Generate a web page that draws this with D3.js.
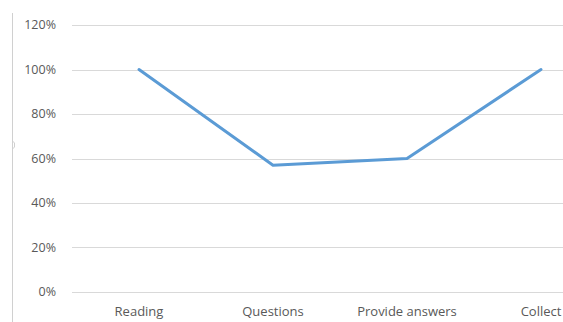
<!DOCTYPE html>
<html>
<head>
<meta charset="utf-8">
<script src="https://cdn.jsdelivr.net/npm/d3@7"></script>
<style>
  body { margin: 0; background: #fff; }
  text { font-family: "Open Sans", "Liberation Sans", sans-serif; }
</style>
</head>
<body>
<div id="chart"></div>
<script>
const categories = ["Reading", "Questions", "Provide answers", "Collect"];
const values = [1.00, 0.57, 0.60, 1.00];
const yTicks = [0, 0.2, 0.4, 0.6, 0.8, 1.0, 1.2];

const width = 563, height = 322;
const margin = { top: 25, right: -45, bottom: 30, left: 72 };

const svg = d3.select("#chart")
  .append("svg")
  .attr("width", width)
  .attr("height", height);

const x = d3.scaleBand()
  .domain(categories)
  .range([margin.left, width - margin.right]);

const y = d3.scaleLinear()
  .domain([0, 1.2])
  .range([height - margin.bottom, margin.top]);

// frame edge on the left
svg.append("line")
  .attr("x1", 12.5).attr("x2", 12.5)
  .attr("y1", 13).attr("y2", height)
  .attr("stroke", "#d0d0d0");
svg.append("path")
  .attr("d", "M12.5,141 L14.5,143 L14.5,147 L12.5,149")
  .attr("fill", "none")
  .attr("stroke", "#d0d0d0");

// gridlines
svg.append("g")
  .selectAll("line")
  .data(yTicks)
  .enter()
  .append("line")
  .attr("x1", margin.left)
  .attr("x2", width)
  .attr("y1", d => Math.round(y(d)) + 0.5)
  .attr("y2", d => Math.round(y(d)) + 0.5)
  .attr("stroke", "#d9d9d9");

// y labels
svg.append("g")
  .selectAll("text")
  .data(yTicks)
  .enter()
  .append("text")
  .attr("x", 56)
  .attr("y", d => y(d))
  .attr("dy", "0.35em")
  .attr("text-anchor", "end")
  .attr("fill", "#595959")
  .style("font-size", "12.5px")
  .text(d => d3.format(".0%")(d));

// x labels
svg.append("g")
  .selectAll("text")
  .data(categories)
  .enter()
  .append("text")
  .attr("x", d => x(d) + x.bandwidth() / 2)
  .attr("y", 311)
  .attr("dy", "0.35em")
  .attr("text-anchor", "middle")
  .attr("fill", "#595959")
  .style("font-size", "13px")
  .text(d => d);

const line = d3.line()
  .x((d, i) => x(categories[i]) + x.bandwidth() / 2)
  .y(d => y(d));

svg.append("path")
  .datum(values)
  .attr("fill", "none")
  .attr("stroke", "#5b9bd5")
  .attr("stroke-width", 3)
  .attr("stroke-linejoin", "round")
  .attr("stroke-linecap", "round")
  .attr("d", line);
</script>
</body>
</html>
